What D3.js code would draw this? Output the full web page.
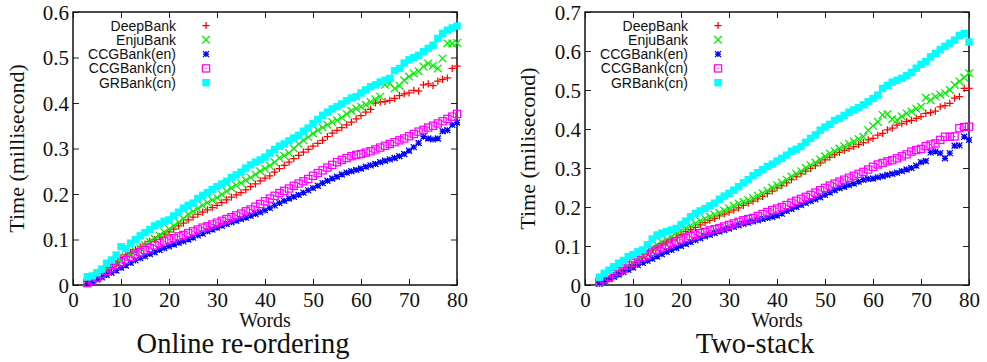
<!DOCTYPE html>
<html><head><meta charset="utf-8">
<script src="https://cdn.jsdelivr.net/npm/d3@7"></script>
<style>
body{margin:0;background:#fff} svg{display:block}
.serif{font-family:"Liberation Serif","Times New Roman","DejaVu Serif",serif}
.sans{font-family:"Liberation Sans",Arial,"DejaVu Sans",sans-serif}
</style>
</head><body><svg id="c" width="987" height="362"></svg>
<script>
// ---------- data ----------
const words = [3,4,5,6,7,8,9,10,11,12,13,14,15,16,17,18,19,20,21,22,23,24,25,26,27,28,29,30,31,32,33,34,35,36,37,38,39,40,41,42,43,44,45,46,47,48,49,50,51,52,53,54,55,56,57,58,59,60,61,62,63,64,65,66,67,68,69,70,71,72,73,74,75,76,77,78,79,80];
const seriesNames = ["DeepBank","EnjuBank","CCGBank(en)","CCGBank(cn)","GRBank(cn)"];
const seriesColors = ["#ff0000","#00ee00","#0000ff","#ff00ff","#00ffff"];
const seriesMarkers = ["plus","cross","star","boxdot","box"];

const xTickValues = [0,10,20,30,40,50,60,70,80];
const onlineYTicks = [0,0.1,0.2,0.3,0.4,0.5,0.6];
const twoStackYTicks = [0,0.1,0.2,0.3,0.4,0.5,0.6,0.7];
const xLabel = "Words";
const onlineYLabel = "Time (millisecond)";
const twoStackYLabel = "Time (milisecond)";
const onlineTitle = "Online re-ordering";
const twoStackTitle = "Two-stack";

// Online re-ordering
const onlineDeepBank = [0.008,0.013,0.020,0.026,0.033,0.040,0.047,0.060,0.066,0.072,
 0.078,0.084,0.090,0.096,0.100,0.106,0.112,0.117,0.123,0.130,
 0.136,0.143,0.149,0.155,0.160,0.165,0.170,0.175,0.181,0.187,
 0.193,0.198,0.203,0.209,0.216,0.222,0.229,0.235,0.240,0.248,
 0.256,0.263,0.270,0.278,0.285,0.292,0.298,0.305,0.311,0.318,
 0.326,0.334,0.340,0.346,0.352,0.358,0.365,0.372,0.380,0.386,
 0.400,0.402,0.403,0.406,0.410,0.416,0.420,0.422,0.428,0.426,
 0.440,0.442,0.438,0.448,0.452,0.455,0.476,0.481];
const onlineEnjuBank = [0.008,0.012,0.020,0.027,0.035,0.042,0.050,0.055,0.062,0.068,
 0.075,0.081,0.088,0.095,0.102,0.109,0.116,0.123,0.130,0.138,
 0.146,0.155,0.162,0.168,0.175,0.181,0.187,0.192,0.199,0.206,
 0.213,0.219,0.224,0.230,0.236,0.243,0.250,0.256,0.262,0.270,
 0.279,0.284,0.290,0.300,0.310,0.318,0.325,0.333,0.340,0.346,
 0.352,0.358,0.362,0.368,0.376,0.383,0.388,0.392,0.396,0.402,
 0.408,0.414,0.440,0.443,0.432,0.438,0.450,0.458,0.465,0.470,
 0.480,0.487,0.482,0.476,0.498,0.531,0.531,0.532];
const onlineCCGen = [0.003,0.007,0.012,0.017,0.022,0.027,0.032,0.038,0.043,0.049,
 0.054,0.059,0.063,0.068,0.072,0.077,0.081,0.085,0.089,0.093,
 0.096,0.100,0.104,0.109,0.113,0.118,0.122,0.126,0.130,0.134,
 0.138,0.141,0.145,0.148,0.152,0.156,0.160,0.164,0.169,0.175,
 0.180,0.185,0.190,0.194,0.198,0.203,0.208,0.213,0.218,0.224,
 0.229,0.234,0.238,0.243,0.247,0.250,0.253,0.256,0.260,0.263,
 0.266,0.270,0.273,0.276,0.279,0.283,0.288,0.295,0.303,0.312,
 0.326,0.322,0.320,0.322,0.338,0.340,0.352,0.357];
const onlineCCGcn = [0.004,0.010,0.016,0.024,0.031,0.037,0.043,0.050,0.055,0.062,
 0.067,0.072,0.077,0.081,0.087,0.092,0.096,0.100,0.103,0.107,
 0.110,0.114,0.118,0.122,0.126,0.129,0.133,0.137,0.141,0.145,
 0.149,0.153,0.157,0.162,0.166,0.172,0.178,0.184,0.190,0.196,
 0.202,0.207,0.212,0.218,0.223,0.228,0.233,0.240,0.246,0.252,
 0.258,0.264,0.270,0.275,0.279,0.283,0.286,0.288,0.291,0.294,
 0.298,0.302,0.306,0.310,0.314,0.318,0.322,0.327,0.332,0.337,
 0.341,0.346,0.350,0.355,0.360,0.365,0.370,0.376];
const onlineGRcn = [0.018,0.020,0.027,0.035,0.048,0.055,0.066,0.084,0.080,0.092,
 0.100,0.108,0.115,0.122,0.130,0.134,0.140,0.143,0.152,0.160,
 0.169,0.175,0.180,0.190,0.197,0.203,0.210,0.216,0.222,0.228,
 0.236,0.242,0.248,0.257,0.264,0.270,0.275,0.281,0.290,0.298,
 0.305,0.310,0.317,0.323,0.329,0.338,0.345,0.355,0.364,0.373,
 0.380,0.387,0.392,0.398,0.405,0.411,0.414,0.422,0.429,0.436,
 0.440,0.446,0.450,0.454,0.471,0.476,0.488,0.495,0.500,0.505,
 0.513,0.520,0.527,0.542,0.553,0.560,0.565,0.569];

// Two-stack
const twoStackDeepBank = [0.006,0.011,0.017,0.024,0.031,0.038,0.045,0.052,0.062,0.072,
 0.082,0.090,0.096,0.103,0.110,0.116,0.122,0.130,0.137,0.142,
 0.148,0.154,0.160,0.166,0.171,0.177,0.182,0.187,0.192,0.198,
 0.204,0.210,0.215,0.221,0.227,0.234,0.241,0.249,0.255,0.262,
 0.270,0.278,0.285,0.292,0.299,0.306,0.313,0.321,0.328,0.334,
 0.340,0.345,0.350,0.355,0.360,0.365,0.372,0.376,0.384,0.389,
 0.398,0.402,0.410,0.414,0.419,0.422,0.427,0.432,0.440,0.442,
 0.446,0.457,0.460,0.466,0.479,0.483,0.504,0.504];
const twoStackEnjuBank = [0.006,0.011,0.018,0.025,0.032,0.040,0.047,0.055,0.065,0.074,
 0.084,0.095,0.103,0.110,0.117,0.124,0.134,0.140,0.146,0.152,
 0.158,0.164,0.170,0.175,0.180,0.185,0.191,0.197,0.203,0.209,
 0.213,0.218,0.223,0.229,0.235,0.242,0.250,0.256,0.262,0.270,
 0.278,0.285,0.292,0.300,0.307,0.314,0.322,0.330,0.337,0.343,
 0.350,0.356,0.362,0.368,0.374,0.380,0.397,0.408,0.418,0.436,
 0.438,0.425,0.423,0.432,0.440,0.445,0.452,0.457,0.480,0.474,
 0.483,0.488,0.492,0.500,0.513,0.522,0.532,0.543];
const twoStackCCGen = [0.003,0.009,0.015,0.021,0.027,0.033,0.039,0.045,0.051,0.057,
 0.062,0.067,0.073,0.079,0.085,0.090,0.095,0.100,0.105,0.110,
 0.115,0.120,0.125,0.129,0.133,0.137,0.141,0.145,0.149,0.153,
 0.157,0.160,0.163,0.166,0.169,0.172,0.175,0.178,0.183,0.190,
 0.195,0.200,0.205,0.210,0.215,0.220,0.225,0.231,0.237,0.243,
 0.248,0.252,0.256,0.260,0.265,0.270,0.272,0.273,0.276,0.279,
 0.282,0.285,0.288,0.292,0.296,0.300,0.306,0.315,0.318,0.340,
 0.342,0.338,0.325,0.338,0.357,0.358,0.380,0.372];
const twoStackCCGcn = [0.008,0.014,0.021,0.028,0.035,0.042,0.050,0.057,0.064,0.071,
 0.078,0.085,0.091,0.097,0.103,0.108,0.112,0.117,0.121,0.125,
 0.129,0.133,0.136,0.140,0.143,0.146,0.150,0.154,0.158,0.162,
 0.166,0.169,0.172,0.177,0.182,0.187,0.192,0.196,0.200,0.205,
 0.211,0.216,0.221,0.226,0.231,0.237,0.243,0.249,0.255,0.260,
 0.265,0.270,0.275,0.280,0.285,0.290,0.296,0.303,0.309,0.313,
 0.317,0.320,0.325,0.330,0.335,0.342,0.346,0.349,0.356,0.360,
 0.363,0.372,0.380,0.380,0.381,0.402,0.405,0.406];
const twoStackGRcn = [0.020,0.030,0.038,0.047,0.056,0.063,0.073,0.078,0.085,0.090,
 0.103,0.118,0.128,0.133,0.137,0.141,0.145,0.155,0.164,0.175,
 0.184,0.190,0.196,0.203,0.210,0.220,0.228,0.235,0.243,0.252,
 0.262,0.270,0.280,0.288,0.296,0.304,0.310,0.318,0.325,0.333,
 0.343,0.348,0.355,0.366,0.376,0.385,0.397,0.405,0.412,0.422,
 0.427,0.435,0.443,0.449,0.455,0.462,0.470,0.478,0.487,0.504,
 0.512,0.520,0.525,0.530,0.537,0.545,0.556,0.566,0.573,0.585,
 0.594,0.603,0.612,0.620,0.628,0.640,0.645,0.623];

// ---------- drawing ----------
const svg = d3.select("#c");

function marker(sel, type, color) {
  const s = 3.6;
  const sw = 1.25;
  if (type === "plus") {
    sel.append("path").attr("d", `M${-s},0H${s}M0,${-s}V${s}`)
      .attr("stroke", color).attr("stroke-width", sw).attr("fill", "none");
  } else if (type === "cross") {
    const c = 3.8;
    sel.append("path").attr("d", `M${-c},${-c}L${c},${c}M${-c},${c}L${c},${-c}`)
      .attr("stroke", color).attr("stroke-width", sw).attr("fill", "none");
  } else if (type === "star") {
    const t = 3;
    sel.append("path").attr("d", `M${-t},0H${t}M0,${-t}V${t}M${-t},${-t}L${t},${t}M${-t},${t}L${t},${-t}`)
      .attr("stroke", color).attr("stroke-width", sw).attr("fill", "none");
  } else if (type === "boxdot") {
    sel.append("rect").attr("x", -s).attr("y", -s).attr("width", 2*s).attr("height", 2*s)
      .attr("stroke", color).attr("stroke-width", sw).attr("fill", "none");
    sel.append("rect").attr("x", -0.6).attr("y", -0.6).attr("width", 1.2).attr("height", 1.2)
      .attr("fill", color);
  } else if (type === "box") {
    sel.append("rect").attr("x", -3.7).attr("y", -3.7).attr("width", 7.4).attr("height", 7.4)
      .attr("fill", color);
  }
}

function drawPanel(cfg) {
  const W = 384, top = 12, bottom = 285;
  const x = d3.scaleLinear().domain([0, 80]).range([cfg.left, cfg.left + W]);
  const y = d3.scaleLinear().domain([0, cfg.ymax]).range([bottom, top]);
  const g = svg.append("g");
  const fmtY = d => d === 0 ? "0" : d3.format(".1f")(d);

  const ax = g.append("g").attr("transform", `translate(0,${bottom})`)
    .call(d3.axisBottom(x).tickValues(xTickValues).tickSize(-6).tickPadding(7).tickFormat(d3.format("d")));
  const axT = g.append("g").attr("transform", `translate(0,${top})`)
    .call(d3.axisTop(x).tickValues(xTickValues).tickSize(-6).tickFormat(""));
  const ay = g.append("g").attr("transform", `translate(${cfg.left},0)`)
    .call(d3.axisLeft(y).tickValues(cfg.yTicks).tickSize(-6).tickPadding(4).tickFormat(fmtY));
  const ayR = g.append("g").attr("transform", `translate(${cfg.left + W},0)`)
    .call(d3.axisRight(y).tickValues(cfg.yTicks).tickSize(-6).tickFormat(""));
  [ax, axT, ay, ayR].forEach(a => {
    a.attr("font-family", null).attr("font-size", null);
    a.select(".domain").remove();
    a.selectAll("line").attr("stroke", "#222").attr("stroke-width", 1);
    a.selectAll("text").attr("class", "serif").style("font-size", "21px").attr("fill", "#111");
  });
  ay.selectAll("text").attr("dy", "0.34em");

  g.append("rect").attr("x", cfg.left).attr("y", top).attr("width", W).attr("height", bottom - top)
    .attr("fill", "none").attr("stroke", "#111").attr("stroke-width", 1.5);

  cfg.series.forEach((vals, si) => {
    const sg = g.append("g");
    words.forEach((w, i) => {
      const p = sg.append("g").attr("transform", `translate(${x(w)},${y(vals[i])})`);
      marker(p, seriesMarkers[si], seriesColors[si]);
    });
  });

  seriesNames.forEach((name, i) => {
    const ry = 25.5 + i * 14.3;
    g.append("text").attr("class", "sans").attr("x", cfg.left + 103).attr("y", ry + 5)
      .attr("text-anchor", "end").style("font-size", "14px")
      .attr("fill", "#111").text(name);
    const m = g.append("g").attr("transform", `translate(${cfg.left + 133},${ry})`);
    marker(m, seriesMarkers[i], seriesColors[i]);
  });

  g.append("text").attr("class", "serif").attr("x", cfg.left + W / 2).attr("y", 326.5).attr("text-anchor", "middle")
    .style("font-size", "20px").attr("fill", "#111").text(xLabel);
  g.append("text").attr("class", "serif").attr("transform", `translate(${cfg.ylabelX},${(top + bottom) / 2}) rotate(-90)`)
    .attr("text-anchor", "middle").style("font-size", "22px")
    .attr("fill", "#111").text(cfg.ylabel);
  g.append("text").attr("class", "serif").attr("x", cfg.titleX).attr("y", 353).attr("text-anchor", "middle")
    .style("font-size", "28.5px").attr("fill", "#111").text(cfg.title);
}

drawPanel({left: 73, ymax: 0.6, yTicks: onlineYTicks, ylabel: onlineYLabel, ylabelX: 23.5,
  title: onlineTitle, titleX: 243,
  series: [onlineDeepBank, onlineEnjuBank, onlineCCGen, onlineCCGcn, onlineGRcn]});
drawPanel({left: 585, ymax: 0.7, yTicks: twoStackYTicks, ylabel: twoStackYLabel, ylabelX: 535,
  title: twoStackTitle, titleX: 755,
  series: [twoStackDeepBank, twoStackEnjuBank, twoStackCCGen, twoStackCCGcn, twoStackGRcn]});
</script>
</body></html>
